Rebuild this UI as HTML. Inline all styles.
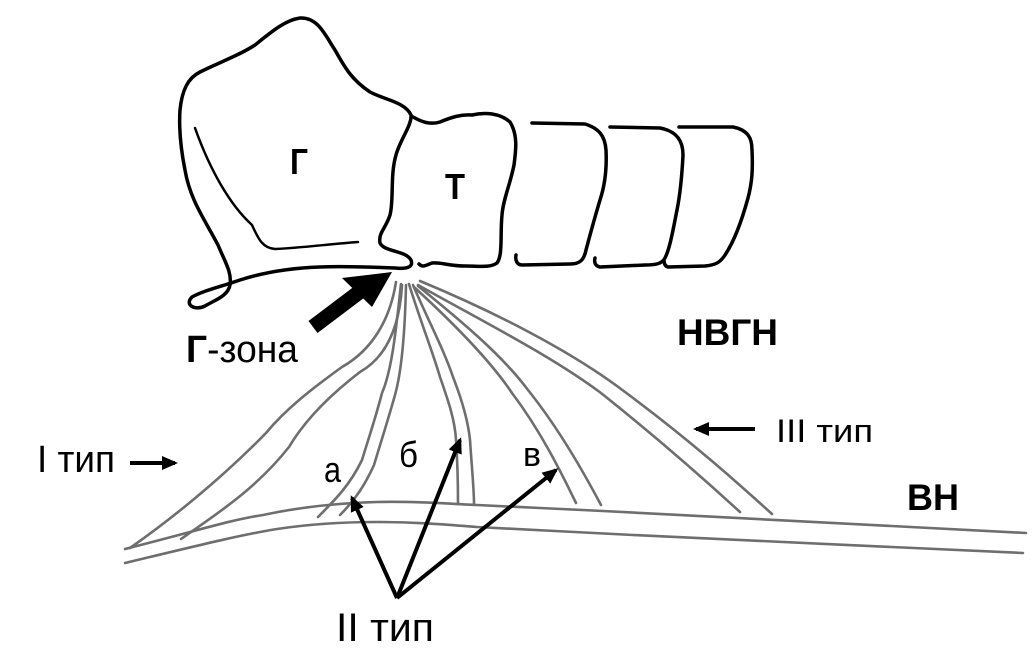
<!DOCTYPE html>
<html><head><meta charset="utf-8"><style>
html,body{margin:0;padding:0;background:#fff}
svg{display:block}
text{font-family:"Liberation Sans","DejaVu Sans",sans-serif}
</style></head><body>
<svg width="1033" height="667" viewBox="0 0 1033 667" xmlns="http://www.w3.org/2000/svg">
<defs>
<marker id="ah2" markerWidth="16" markerHeight="16" refX="13" refY="8" orient="auto" markerUnits="userSpaceOnUse">
<path d="M0,1 L16,8 L0,15 Z" fill="#000"/></marker>
</defs>
<g fill="none" stroke="#000" stroke-width="3.5" stroke-linejoin="round" stroke-linecap="round">
<path d="M180,110 C182,90 188,78 200,72 C220,62 240,55 255,45 C270,33 285,20 300,18 C318,17 325,35 335,50 C345,68 352,80 370,92 C385,100 405,102 411,115 C412,125 400,140 396,155 C390,175 394,200 390,215 C386,228 378,233 380,243 C384,252 405,250 411,260 C414,268 405,269 395,268 C370,267 345,266 320,267 C290,268 265,272 240,280 C220,287 205,290 192,297 C184,305 195,311 205,306 C215,300 228,296 230,285 C232,272 225,262 218,245 C205,220 190,200 185,170 C180,145 179,125 180,110 Z"/>
<path d="M195,128 C210,170 230,205 252,225 C258,238 262,248 275,249 C300,248 330,244 358,242" stroke-width="2.5"/>
<path d="M413,117 C422,122 430,125 440,122 C452,117 462,114 472,115 C485,112 500,113 510,122 C518,135 516,150 514,165 C510,185 503,200 502,215 C500,235 503,255 497,263 C490,268 480,266 465,266 C450,266 440,262 432,263 C426,265 423,268 419,264"/>
<path d="M532,123 L585,124 C598,128 605,135 606,150 C607,170 605,185 600,200 C594,220 590,235 586,250 C584,260 580,264 570,264 L522,265 C517,265 515,260 516,255"/>
<path d="M610,127 L660,128 C676,131 683,140 683,155 C682,175 680,195 677,210 C673,230 670,248 665,258 C662,264 655,265 645,265 L600,267 C595,266 594,262 595,258"/>
<path d="M679,127 L733,127 C748,130 752,138 752,150 C753,170 752,183 748,198 C742,220 735,240 725,255 C720,263 715,265 705,266 L668,267 C664,266 664,262 664,260"/>
</g>
<g fill="none" stroke="#6e6e6e" stroke-width="2.6" stroke-linecap="round">
<path d="M125,549 C200,530 230,520 263,515 C300,507 340,503 377,502 C420,501 450,504 477,505 C520,507 560,509 603,511 C700,517 860,525 1026,533"/>
<path d="M125,563 C200,545 240,535 277,529 C310,524 340,522 377,522 C420,522 450,525 477,527 C530,530 580,532 633,535 C750,541 900,547 1023,553"/>
<path d="M396,282 C390,320 372,350 342,367 C310,390 285,410 266,433 C220,480 170,520 130,548"/>
<path d="M402,285 C400,320 390,355 360,372 C330,395 305,420 289,447 C255,490 215,515 181,539"/>
<path d="M401,284 C396,330 392,370 382,393 C375,420 368,440 362,460 C350,485 335,500 318,517"/>
<path d="M406,285 C405,330 402,370 395,395 C388,420 380,445 374,465 C365,485 355,500 340,515"/>
<path d="M409,284 C420,320 432,350 440,377 C448,400 455,420 456,440 C458,470 458,490 458,503"/>
<path d="M413,285 C428,320 444,350 453,377 C462,400 468,420 470,440 C472,470 474,490 474,503"/>
<path d="M414,287 C450,320 490,360 512,393 C540,430 560,470 576,503"/>
<path d="M418,286 C460,320 502,355 528,390 C560,430 585,475 601,505"/>
<path d="M418,285 C480,320 550,355 601,393 C660,440 705,480 740,512"/>
<path d="M420,281 C490,310 570,350 625,392 C690,440 740,485 772,514"/>
</g>
<line x1="313" y1="327" x2="362" y2="290" stroke="#000" stroke-width="15"/>
<path d="M342,278 L392,272 L372,307 Z" fill="#000"/>
<g stroke="#000" stroke-width="4" fill="none">
<line x1="130" y1="463" x2="175" y2="463" marker-end="url(#ah2)"/>
<line x1="755" y1="429" x2="696" y2="429" marker-end="url(#ah2)"/>
<line x1="397" y1="598" x2="352" y2="498" marker-end="url(#ah2)"/>
<line x1="397" y1="598" x2="460" y2="440" marker-end="url(#ah2)"/>
<line x1="397" y1="598" x2="556" y2="470" marker-end="url(#ah2)"/>
</g>
<g fill="#000">
<text x="290" y="174" font-size="36" font-weight="bold" textLength="18" lengthAdjust="spacingAndGlyphs">Г</text>
<text x="445" y="199" font-size="36" font-weight="bold" textLength="20" lengthAdjust="spacingAndGlyphs">Т</text>
<text x="186" y="362" font-size="38" textLength="112" lengthAdjust="spacingAndGlyphs"><tspan font-weight="bold">Г</tspan>-зона</text>
<text x="677" y="345" font-size="37" font-weight="bold" textLength="101" lengthAdjust="spacingAndGlyphs">НВГН</text>
<text x="776" y="442" font-size="32" textLength="97" lengthAdjust="spacingAndGlyphs">III тип</text>
<text x="37" y="472" font-size="38" textLength="78" lengthAdjust="spacingAndGlyphs">I тип</text>
<text x="324" y="482" font-size="36" textLength="17" lengthAdjust="spacingAndGlyphs">а</text>
<text x="399" y="467" font-size="36" textLength="19" lengthAdjust="spacingAndGlyphs">б</text>
<text x="523" y="466" font-size="34" textLength="18" lengthAdjust="spacingAndGlyphs">в</text>
<text x="907" y="510" font-size="37" font-weight="bold" textLength="52" lengthAdjust="spacingAndGlyphs">ВН</text>
<text x="336" y="641" font-size="40" textLength="98" lengthAdjust="spacingAndGlyphs">II тип</text>
</g>
</svg>
</body></html>
